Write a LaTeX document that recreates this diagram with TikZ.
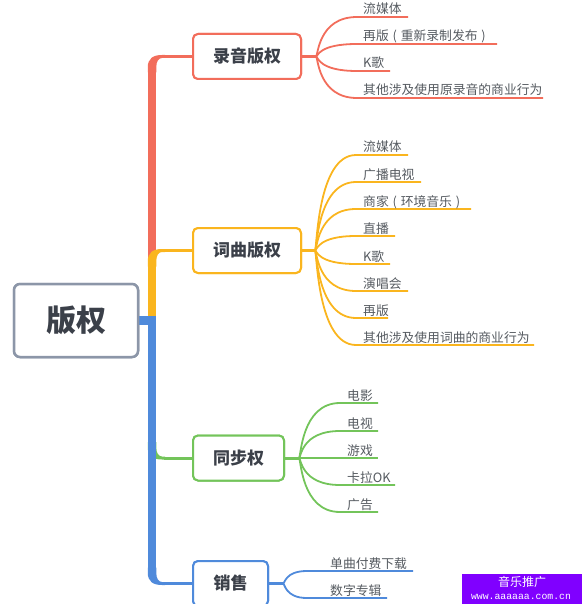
\documentclass[tikz,border=0pt]{standalone}
\usepackage{fontspec}
\setmainfont{Noto Sans CJK SC}
\newfontfamily\monof{Liberation Mono}
\definecolor{cR}{HTML}{F26D5B}
\definecolor{cO}{HTML}{FAB51E}
\definecolor{cG}{HTML}{73C45A}
\definecolor{cB}{HTML}{4F8ADB}
\definecolor{cRoot}{HTML}{8C96A8}
\definecolor{cTitle}{HTML}{3B4049}
\definecolor{cLeaf}{HTML}{555A60}
\definecolor{cWm}{HTML}{8000FF}
\newcommand\lp{\makebox[12pt]{(}}
\newcommand\rp{\makebox[12pt]{)}}
\newcommand\cornershape{(-4.25,16) -- (-4.25,11) .. controls (-4.25,2) and (1,-1.5) .. (10,-1.5) -- (13,-1.5) -- (13,1.5) -- (10,1.5) .. controls (6.5,1.5) and (4.25,5) .. (4.25,11) -- (4.25,16) -- cycle}
\tikzset{
  trunk/.style={line width=8.5pt},
  branch/.style={line width=3pt},
  leafline/.style={line width=1.8pt},
  topicbox/.style={draw=#1, line width=2pt, rounded corners=5pt, fill=white,
    minimum height=45pt, inner sep=0pt, text=cTitle, font=\bfseries\fontsize{17}{17}\selectfont},
  rootbox/.style={draw=cRoot, line width=2.5pt, rounded corners=6pt, fill=white,
    minimum width=124pt, minimum height=73pt, inner sep=0pt, text=cTitle,
    font=\bfseries\fontsize{30}{30}\selectfont},
  leaf/.style={anchor=base west, inner sep=0pt, text=cLeaf, font=\fontsize{12.8}{13}\selectfont},
}
\begin{document}
\begin{tikzpicture}[x=1pt,y=-1pt]
\useasboundingbox (0,0) rectangle (582,604);
\clip (0,0) rectangle (582,604);
% topic nodes (drawn again on top at the end)
\node[rootbox] (root) at (76,320.5) {版权};
\node[topicbox=cR, minimum width=108pt] (b1) at (247,56.5) {录音版权};
\node[topicbox=cO, minimum width=108pt] (b2) at (247,250.5) {词曲版权};
\node[topicbox=cG, minimum width=91pt] (b3) at (238.5,458) {同步权};
\node[topicbox=cB, minimum width=75pt] (b4) at (230.5,583.5) {销售};
\coordinate (f1) at (316,56.5);
\coordinate (f2) at (315,250.5);
\coordinate (f3) at (299,458);
\coordinate (f4) at (283,583.5);
\coordinate (j1) at (152,56.5);
\coordinate (j2) at (152,250.5);
\coordinate (j3) at (152,458);
\coordinate (j4) at (152,583.5);
% trunks
\draw[trunk,cR] (152,317) -- (152,70);
\fill[cR, shift={(j1)}] \cornershape;
\draw[trunk,cO] (152,317) -- (152,264);
\fill[cO, shift={(j2)}] \cornershape;
\draw[trunk,cG] (152,330) -- (152,444);
\fill[cG, shift={(j3)}, yscale=-1] \cornershape;
\draw[trunk,cB] (root.east) -- (152,320.5) -- (152,569);
\fill[cB, shift={(j4)}, yscale=-1] \cornershape;
\draw[branch,cR] (164,56.5) -- (b1.west);
\draw[branch,cO] (164,250.5) -- (b2.west);
\draw[branch,cG] (164,458) -- (b3.west);
\draw[branch,cB] (164,583.5) -- (b4.west);
\draw[branch,cR] (b1.east) -- (f1);
\draw[branch,cO] (b2.east) -- (f2);
\draw[branch,cG] (b3.east) -- (f3);
\draw[branch,cB] (b4.east) -- (f4);
% leaves
\foreach \ly/\ex/\t [count=\i] in {17/408/流媒体, 44/497/再版\lp 重新录制发布\rp, 71/390/K歌, 98/543/其他涉及使用原录音的商业行为}{
  \draw[leafline,cR] (f1) .. controls +(2,0) and +(-39,0) .. (357,\ly) -- (\ex,\ly);
  \node[leaf] (la\i) at (363,\ly-3) {\t};
}
\foreach \ly/\ex/\t [count=\i] in {155/408/流媒体, 182/421/广播电视, 209/471/商家\lp 环境音乐\rp, 236/395/直播, 264/390/K歌, 291/408/演唱会, 318/388/再版, 345/534/其他涉及使用词曲的商业行为}{
  \draw[leafline,cO] (f2) .. controls +(2,0) and +(-39,0) .. (356,\ly) -- (\ex,\ly);
  \node[leaf] (lb\i) at (363,\ly-3) {\t};
}
\foreach \ly/\ex/\t [count=\i] in {403/378/电影, 431/378/电视, 458/378/游戏, 485/395/卡拉OK, 512/378/广告}{
  \draw[leafline,cG] (f3) .. controls +(2,0) and +(-39,0) .. (340,\ly) -- (\ex,\ly);
  \node[leaf] (lc\i) at (347,\ly-3) {\t};
}
\foreach \ly/\ex/\t [count=\i] in {571/413/单曲付费下载, 598/387/数字专辑}{
  \draw[leafline,cB] (f4) .. controls +(2,0) and +(-22,0) .. (307,\ly) -- (\ex,\ly);
  \node[leaf] (ld\i) at (330,\ly-3) {\t};
}
% topic boxes on top of their connectors
\node[rootbox] at (root.center) {版权};
\node[topicbox=cR, minimum width=108pt] at (b1.center) {录音版权};
\node[topicbox=cO, minimum width=108pt] at (b2.center) {词曲版权};
\node[topicbox=cG, minimum width=91pt] at (b3.center) {同步权};
\node[topicbox=cB, minimum width=75pt] at (b4.center) {销售};
% watermark
\fill[cWm] (462,574) rectangle (582,604);
\node[text=white, inner sep=0pt, font=\fontsize{12}{12}\selectfont] (wm1) at (522,582) {音乐推广};
\node[text=white, inner sep=0pt, font=\monof\fontsize{9.8}{10}\selectfont] (wm2) at (521,597) {www.aaaaaa.com.cn};
\end{tikzpicture}
\end{document}
